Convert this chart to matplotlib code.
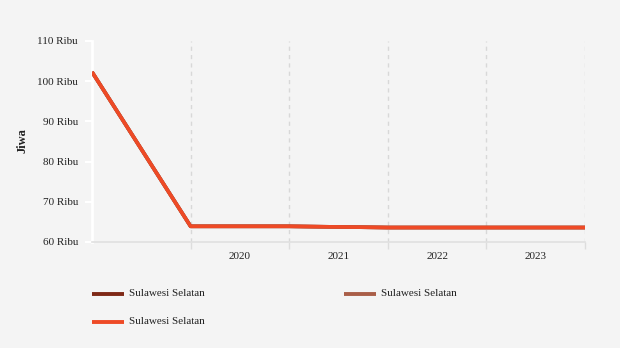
import matplotlib.pyplot as plt
from matplotlib.lines import Line2D

# data
x_pos = [0, 1, 2, 3, 4, 5]
year_labels = ["2020", "2021", "2022", "2023"]
series_names = ["Sulawesi Selatan", "Sulawesi Selatan", "Sulawesi Selatan"]
series_values = [
    [102.3, 63.9, 63.9, 63.6, 63.6, 63.6],
    [102.3, 63.9, 63.9, 63.6, 63.6, 63.6],
    [102.3, 63.9, 63.9, 63.6, 63.6, 63.6],
]
series_colors = ["#7e2816", "#a95e48", "#ee4a26"]
y_ticks = [60, 70, 80, 90, 100, 110]

plt.rcParams['font.family'] = ['Liberation Serif', 'DejaVu Serif']

bg = "#f4f4f4"
fig = plt.figure(figsize=(6.2, 3.48), dpi=100, facecolor=bg)
ax = fig.add_axes([92 / 620, 1 - 242 / 348, (585 - 92) / 620, (242 - 41) / 348])
ax.set_facecolor(bg)

for vals, col in zip(series_values, series_colors):
    ax.plot(x_pos, vals, color=col, lw=2.6, solid_capstyle='butt', zorder=3)

ax.set_xlim(0, 5)
ax.set_ylim(60, 110)

# x axis: grid at year boundaries, labels centred in bands
ax.set_xticks([1, 2, 3, 4, 5])
ax.set_xticklabels([])
ax.set_xticks([1.5, 2.5, 3.5, 4.5], minor=True)
ax.set_xticklabels(year_labels, minor=True)
ax.tick_params(axis='x', which='major', length=5, color='#dddddd', width=1)
ax.tick_params(axis='x', which='minor', length=0, pad=7, labelsize=8, labelcolor='#222222')
ax.grid(axis='x', which='major', color='#d8d8d8', linestyle=(0, (3, 3)), lw=1)

ax.set_yticks(y_ticks)
ax.set_yticklabels([f"{v} Ribu" for v in y_ticks])
ax.tick_params(axis='y', length=5, color='white', width=1.5, labelsize=8,
               labelcolor='#222222', pad=5)

for side in ['top', 'right']:
    ax.spines[side].set_visible(False)
ax.spines['left'].set_color('white')
ax.spines['left'].set_linewidth(2)
ax.spines['bottom'].set_color('#e0e0e0')
ax.spines['bottom'].set_linewidth(1.2)

fig.text(22 / 620, 1 - 141 / 348, "Jiwa", rotation=90, ha='center', va='center',
         fontsize=9, fontweight='bold', color='#222222')

# legend drawn by hand to match layout
legend_slots = [(92, 293.5), (344, 293.5), (92, 321.5)]
for (lx, ly), name, col in zip(legend_slots, series_names, series_colors):
    fy = 1 - ly / 348
    fig.add_artist(Line2D([lx / 620, (lx + 32) / 620], [fy, fy], color=col, lw=2.8,
                          solid_capstyle='butt', transform=fig.transFigure))
    fig.text((lx + 37) / 620, fy, name, ha='left', va='center', fontsize=8,
             color='#222222')

fig.savefig("out.png", dpi=100, facecolor=bg)
